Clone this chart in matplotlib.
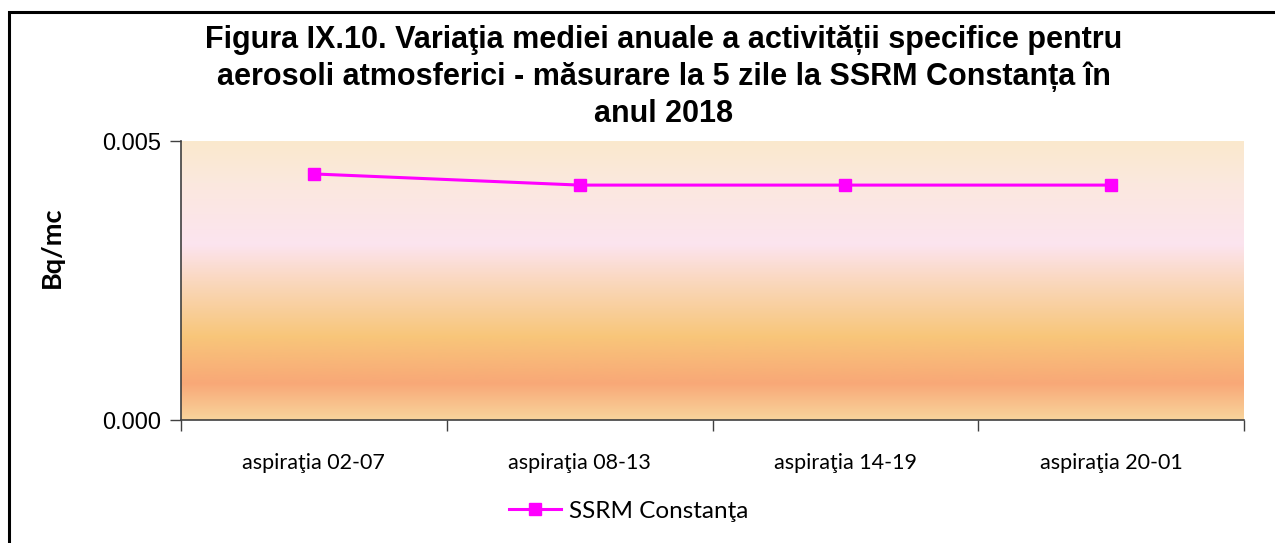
import matplotlib
matplotlib.use("Agg")
import matplotlib.pyplot as plt
import numpy as np
from matplotlib.colors import LinearSegmentedColormap
from matplotlib.patches import Rectangle

# data
categories = ["aspiraţia 02-07", "aspiraţia 08-13", "aspiraţia 14-19", "aspiraţia 20-01"]
ssrm_constanta = [0.00441, 0.00421, 0.00421, 0.00421]
y_ticks = [0.0, 0.005]
y_tick_labels = ["0.000", "0.005"]

title = ("Figura IX.10. Variaţia mediei anuale a activității specifice pentru\n"
         "aerosoli atmosferici - măsurare la 5 zile la SSRM Constanța în\n"
         "anul 2018")

fig = plt.figure(figsize=(12.75, 5.43), dpi=100)
ax = fig.add_axes([0.142, 0.2265, 0.8337, 0.5138])

# background gradient (top -> bottom)
grad = LinearSegmentedColormap.from_list("bg", [
    (0.00, "#FAE9CD"),
    (0.15, "#FBE8DE"),
    (0.37, "#FCE4EF"),
    (0.50, "#FAD8BF"),
    (0.70, "#F8C67A"),
    (0.87, "#F8A877"),
    (1.00, "#F9D49C"),
])
ax.imshow(np.linspace(0, 1, 256).reshape(-1, 1), cmap=grad, aspect="auto",
          extent=[0, 1, 0, 1], transform=ax.transAxes, zorder=0)

x = np.arange(len(categories))
ax.plot(x, ssrm_constanta, color="#FF00FF", linewidth=2.2, marker="s",
        markersize=9, markeredgecolor="#FF00FF", label="SSRM Constanţa", zorder=3)

ax.set_xlim(-0.5, len(categories) - 0.5)
ax.set_ylim(0, 0.005)

ax.set_xticks(np.arange(len(categories) + 1) - 0.5)
ax.set_xticklabels([])
ax.set_xticks(x, minor=True)
ax.set_xticklabels(categories, minor=True, fontname="Lato", fontsize=15.5)
ax.tick_params(axis="x", which="major", direction="out", length=8, width=1, color="#404040")
ax.tick_params(axis="x", which="minor", length=0, pad=24)

ax.set_yticks(y_ticks)
ax.set_yticklabels(y_tick_labels, fontname="Liberation Sans", fontsize=17)
ax.tick_params(axis="y", direction="out", length=8, width=1, color="#404040", pad=6)

for side in ["top", "right"]:
    ax.spines[side].set_visible(False)
for side in ["left", "bottom"]:
    ax.spines[side].set_color("#404040")
    ax.spines[side].set_linewidth(1.2)

ax.set_ylabel("Bq/mc", fontname="Lato", fontweight="bold", fontsize=19.5)
ax.yaxis.set_label_coords(-0.11, 0.62)

fig.text(664 / 1275, 1 - 25 / 543, title, ha="center", va="top", fontname="Liberation Sans",
         fontweight="bold", fontsize=22, linespacing=1.28)

leg = ax.legend(loc="center", frameon=False,
                prop={"family": "Lato", "size": 17.5}, handlelength=2.15,
                handletextpad=0.33)
leg.set_bbox_to_anchor((629 / 1275, 1 - 511 / 543), transform=fig.transFigure)

# outer chart border
fig.patches.append(Rectangle((9 / 1275, -0.1), 1.2, 1 - 12 / 543 + 0.1,
                             transform=fig.transFigure, fill=False,
                             edgecolor="black", linewidth=2.2))

fig.savefig("out.png", dpi=100)
